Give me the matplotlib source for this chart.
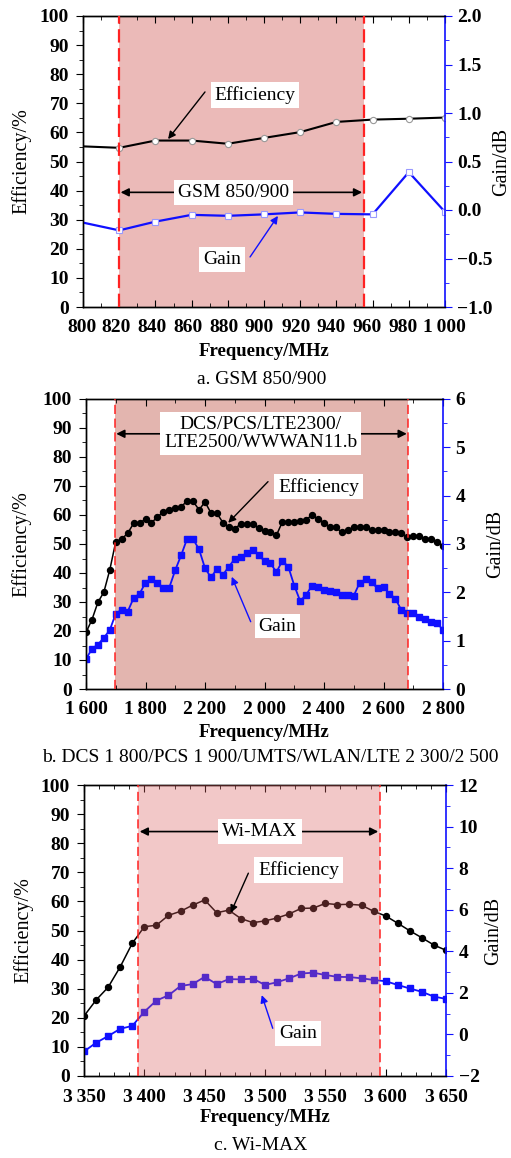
import matplotlib
matplotlib.use("Agg")
import matplotlib.pyplot as plt
from matplotlib.ticker import MultipleLocator
from matplotlib.transforms import ScaledTranslation

plt.rcParams.update({"font.family": ["Liberation Serif", "DejaVu Serif"], "font.size": 14,
                     "axes.linewidth": 1.0})

BLUE, RED = "#1010FF", "#FF2222"
TICK_FS = 14
TS = "\u2009"  # thin space used in the frequency labels

# ---- a. GSM 850/900 ----
freq_a = [800, 820, 840, 860, 880, 900, 920, 940, 960, 980, 1000]
eff_a = [55.2, 54.7, 57.2, 57.2, 56.1, 58.1, 60.1, 63.6, 64.4, 64.7, 65.1]
gain_a = [-0.13, -0.21, -0.12, -0.05, -0.06, -0.045, -0.025, -0.04, -0.045, 0.39, -0.02]
xticks_a = [800, 820, 840, 860, 880, 900, 920, 940, 960, 980, 1000]
xlabels_a = ["800", "820", "840", "860", "880", "900", "920", "940", "960", "980", "1 000"]
gticks_a = [-1.0, -0.5, 0.0, 0.5, 1.0, 1.5, 2.0]
glabels_a = ["\u22121.0", "\u22120.5", "0.0", "0.5", "1.0", "1.5", "2.0"]
band_a = (820, 955)

# ---- b. DCS/PCS/UMTS/WLAN/LTE ----
freq_b = [1600, 1620, 1640, 1660, 1680, 1700, 1720, 1740, 1760, 1780,
          1800, 1820, 1840, 1860, 1880, 1900, 1920, 1940, 1960, 1980,
          2000, 2020, 2040, 2060, 2080, 2100, 2120, 2140, 2160, 2180,
          2200, 2220, 2240, 2260, 2280, 2300, 2320, 2340, 2360, 2380,
          2400, 2420, 2440, 2460, 2480, 2500, 2520, 2540, 2560, 2580,
          2600, 2620, 2640, 2660, 2680, 2700, 2720, 2740, 2760, 2780, 2800]
eff_b = [19.5, 23.9, 29.9, 33.4, 41.1, 50.8, 51.7, 53.7, 57.1, 57.2,
         58.6, 57.4, 59.2, 61.2, 61.8, 62.3, 62.9, 64.8, 64.7, 61.8,
         64.5, 60.7, 60.6, 57.4, 55.9, 55.3, 56.9, 56.9, 56.9, 55.5,
         54.5, 54.3, 53.0, 57.6, 57.6, 57.6, 57.8, 58.4, 60.0, 58.6,
         57.4, 55.7, 55.7, 54.0, 54.9, 55.7, 55.7, 56.0, 54.7, 54.7,
         54.7, 54.3, 54.1, 53.7, 52.3, 52.9, 52.7, 51.7, 51.7, 50.6, 49.2]
gain_b = [0.62, 0.83, 0.92, 1.06, 1.22, 1.56, 1.64, 1.60, 1.88, 1.97,
          2.20, 2.27, 2.20, 2.09, 2.10, 2.46, 2.77, 3.11, 3.10, 2.89,
          2.50, 2.31, 2.48, 2.36, 2.53, 2.69, 2.73, 2.81, 2.87, 2.77,
          2.65, 2.60, 2.42, 2.65, 2.53, 2.14, 1.82, 1.95, 2.14, 2.12,
          2.05, 2.02, 2.00, 1.95, 1.95, 1.93, 2.20, 2.27, 2.21, 2.08,
          2.11, 1.97, 1.87, 1.63, 1.58, 1.58, 1.50, 1.45, 1.38, 1.37, 1.22]
xticks_b = [1600, 1800, 2000, 2200, 2400, 2600, 2800]
xlabels_b = ["1 600", "1 800", "2 200", "2 000", "2 400", "2 600", "2 800"]  # as printed
gticks_b = [0, 1, 2, 3, 4, 5, 6]
glabels_b = ["0", "1", "2", "3", "4", "5", "6"]
band_b = (1697, 2683)

# ---- c. Wi-MAX ----
freq_c = [3350, 3360, 3370, 3380, 3390, 3400, 3410, 3420, 3430, 3440,
          3450, 3460, 3470, 3480, 3490, 3500, 3510, 3520, 3530, 3540,
          3550, 3560, 3570, 3580, 3590, 3600, 3610, 3620, 3630, 3640, 3650]
eff_c = [20.6, 26.1, 30.5, 37.5, 45.6, 51.3, 51.8, 55.2, 56.6, 58.7,
         60.5, 56.1, 57.0, 54.1, 52.7, 53.3, 54.3, 55.7, 57.6, 57.7,
         59.3, 58.9, 59.0, 58.7, 56.6, 55.0, 52.5, 49.9, 47.5, 45.0, 43.2]
gain_c = [-0.82, -0.40, -0.08, 0.27, 0.41, 1.09, 1.63, 1.88, 2.33, 2.42,
          2.77, 2.42, 2.66, 2.65, 2.68, 2.38, 2.51, 2.70, 2.93, 2.97,
          2.86, 2.77, 2.76, 2.70, 2.62, 2.56, 2.38, 2.21, 2.05, 1.82, 1.71]
xticks_c = [3350, 3400, 3450, 3500, 3550, 3600, 3650]
xlabels_c = ["3 350", "3 400", "3 450", "3 500", "3 550", "3 600", "3 650"]
gticks_c = [-2, 0, 2, 4, 6, 8, 10, 12]
glabels_c = ["\u22122", "0", "2", "4", "6", "8", "10", "12"]
band_c = (3395, 3595)

W, H = 511, 1158


def rect(l, r, t, b):
    return [l / W, 1 - b / H, (r - l) / W, (b - t) / H]


def base(fig, box, xticks, xlabels, xminor, gticks, glabels, gminor, lab):
    ax = fig.add_axes(box)
    ax2 = ax.twinx()
    ax.set_xlim(xticks[0], xticks[-1]); ax.set_ylim(0, 100)
    ax2.set_ylim(gticks[0], gticks[-1])
    ax.set_xticks(xticks, labels=[s.replace(" ", TS) for s in xlabels],
                  fontweight="bold", fontsize=TICK_FS)
    ax.xaxis.set_minor_locator(MultipleLocator(xminor))
    ax.set_yticks(range(0, 101, 10), labels=[str(v) for v in range(0, 101, 10)],
                  fontweight="bold", fontsize=TICK_FS)
    ax.yaxis.set_minor_locator(MultipleLocator(5))
    ax2.set_yticks(gticks, labels=glabels, fontweight="bold", fontsize=TICK_FS)
    ax2.yaxis.set_minor_locator(MultipleLocator(gminor))
    ax.tick_params(axis="x", which="both", direction="in", top=True, pad=9)
    ax.tick_params(axis="y", which="both", direction="out", pad=5)
    ax.tick_params(which="major", length=5); ax.tick_params(which="minor", length=3)
    ax2.tick_params(axis="y", which="both", direction="out", colors=BLUE,
                    labelcolor="black", pad=4)
    ax2.tick_params(which="major", length=5); ax2.tick_params(which="minor", length=3)
    ax2.spines["right"].set_color(BLUE); ax2.spines["right"].set_linewidth(1.2)
    ax.spines["right"].set_visible(False)
    xl, yl, gl = lab
    ax.set_xlabel("Frequency/MHz", fontweight="bold", fontsize=13.5)
    ax.xaxis.set_label_coords(0.5, xl)
    ax.set_ylabel("Efficiency/%", fontsize=14.5); ax.yaxis.set_label_coords(yl, 0.5)
    ax2.set_ylabel("Gain/dB", fontsize=14.5); ax2.yaxis.set_label_coords(gl, 0.5)
    return ax, ax2


def note(ax, ax2, text, pos, start, end, color):
    ax2.text(*pos, text, transform=ax.transData, ha="center", va="center", zorder=7,
             bbox=dict(boxstyle="square,pad=0.2", fc="white", ec="none"))
    ax2.annotate("", xy=end, xytext=start, xycoords=ax.transData, textcoords=ax.transData,
                 arrowprops=dict(arrowstyle="-|>", color=color, lw=1, mutation_scale=11,
                                 shrinkA=0, shrinkB=0), zorder=7)


def band(ax, ax2, text, pos, x0, x1):
    ax2.annotate("", xy=(x1, pos[1]), xytext=(x0, pos[1]), xycoords=ax.transData,
                 textcoords=ax.transData, zorder=6,
                 arrowprops=dict(arrowstyle="<|-|>", color="black", lw=1.2,
                                 mutation_scale=12, shrinkA=1, shrinkB=1))
    ax2.text(*pos, text, transform=ax.transData, ha="center", va="center", zorder=7,
             linespacing=1.1, bbox=dict(boxstyle="square,pad=0.2", fc="white", ec="none"))


fig = plt.figure(figsize=(W / 100, H / 100), dpi=100)

# a
ax, ax2 = base(fig, rect(83, 445, 16, 307), xticks_a, xlabels_a, 10,
               gticks_a, glabels_a, 0.25, (-0.124, -0.1436, 1.13))
# the printed labels sit a little left of their ticks; keeps "980" and "1 000" apart
for lbl, dx in zip(ax.get_xticklabels(), [-1, -3, -3, -3.5, -4, -4.5, -4.5, -5, -5.5, -6, -1]):
    lbl.set_transform(lbl.get_transform() + ScaledTranslation(dx / 100, 0, fig.dpi_scale_trans))
ax.axvspan(*band_a, color="#EBBAB8", lw=0, zorder=0)
ax.plot(freq_a, eff_a, color="black", lw=1.5, marker="o", ms=4.5, mfc="white",
        mec="#999999", mew=0.8, markevery=slice(1, None))
ax2.plot(freq_a, gain_a, color=BLUE, lw=1.6, marker="s", ms=4.2, mfc="white",
         mec="#9999ff", mew=0.8, markevery=slice(1, None))
for x in band_a:
    ax2.axvline(x, color=RED, lw=1.6, ls=(0, (6, 2.5)), zorder=5)
band(ax, ax2, "GSM 850/900", (883, 39.4), *band_a)
note(ax, ax2, "Efficiency", (895, 72.9), (867.4, 73.9), (847, 57.7), "black")
note(ax, ax2, "Gain", (876.8, 16.2), (892.3, 17.2), (907.7, 31.3), BLUE)
fig.text(262 / W, 1 - 380 / H, "a. GSM 850/900", ha="center", va="center")

# b
ax, ax2 = base(fig, rect(86, 443, 399, 689), xticks_b, xlabels_b, 100,
               gticks_b, glabels_b, 0.5, (-0.121, -0.154, 1.12))
ax.axvspan(*band_b, color="#E3B5AF", lw=0, zorder=0)
ax.plot(freq_b, eff_b, color="black", lw=1.1, marker="o", ms=4.3)
ax2.plot(freq_b, gain_b, color=BLUE, lw=1.3, marker="s", ms=3.8)
for x in band_b:
    ax2.axvline(x, color=RED, lw=1.1, ls=(0, (6, 3)), zorder=5)
band(ax, ax2, "DCS/PCS/LTE2300/\nLTE2500/WWWAN11.b", (2188, 88.0), *band_b)
note(ax, ax2, "Efficiency", (2381.5, 69.8), (2211.8, 71.5), (2078, 57.3), "black")
note(ax, ax2, "Gain", (2243.7, 21.7), (2153.6, 23.2), (2089.8, 38.7), BLUE)
fig.text(270 / W, 1 - 758 / H, "b. DCS 1 800/PCS 1 900/UMTS/WLAN/LTE 2 300/2 500",
         ha="center", va="center")

# c
ax, ax2 = base(fig, rect(84, 446, 785, 1076), xticks_c, xlabels_c, 12.5,
               gticks_c, glabels_c, 1, (-0.113, -0.141, 1.105))
ax.plot(freq_c, eff_c, color="black", lw=1.1, marker="o", ms=4.3)
ax2.plot(freq_c, gain_c, color=BLUE, lw=1.3, marker="s", ms=3.8)
ax2.axvspan(*band_c, color="#DA6060", alpha=0.34, lw=0, zorder=3)
for x in band_c:
    ax2.axvline(x, color=RED, lw=1.1, ls=(0, (6, 3)), zorder=5)
band(ax, ax2, "Wi-MAX", (3495.9, 84.0), *band_c)
note(ax, ax2, "Efficiency", (3527.9, 70.8), (3486.2, 69.7), (3471.6, 56.1), "black")
note(ax, ax2, "Gain", (3527.6, 14.5), (3506.4, 16.4), (3497.3, 27.8), BLUE)
fig.text(261 / W, 1 - 1145 / H, "c. Wi-MAX", ha="center", va="center")

fig.savefig("out.png", dpi=100)
